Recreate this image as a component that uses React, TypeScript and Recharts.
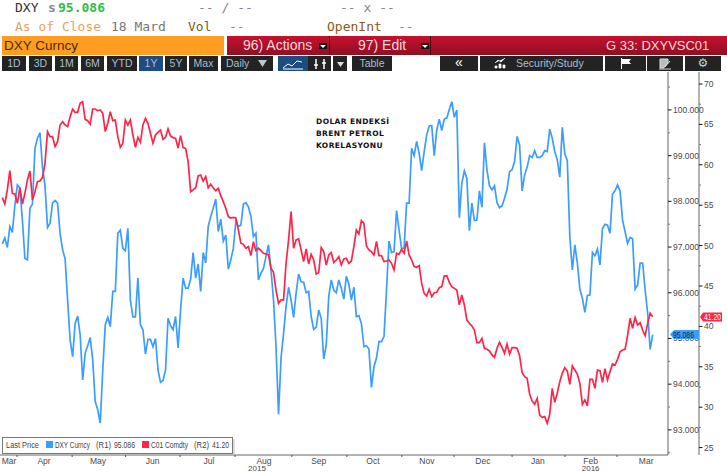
import React from "react";
import { LineChart, Line, XAxis, YAxis } from "recharts";

const dxyValues = [
97.07,97.20,96.99,97.45,97.32,97.92,98.36,98.29,97.59,96.75,96.72,97.85,97.94,99.16,99.38,99.50,98.75,98.34,97.43,97.52,97.96,98.02,97.96,97.30,96.94,96.75,
95.84,94.97,94.60,95.33,95.49,95.08,94.09,94.68,94.84,95.02,94.53,93.62,93.44,93.15,94.31,95.30,95.46,95.26,96.03,96.03,
97.30,97.37,96.97,96.92,97.41,95.84,95.47,95.47,96.32,95.30,95.19,94.66,94.98,94.98,94.82,95.00,94.31,94.04,94.08,94.31,95.44,95.28,95.19,95.48,94.79,95.63,96.32,96.10,96.10,96.30,96.88,96.32,96.63,96.03,96.88,96.65,
97.45,97.67,97.85,98.05,97.34,97.61,97.13,97.26,96.52,96.72,96.97,97.56,97.45,97.48,
97.94,97.97,97.88,97.67,97.23,97.30,96.28,96.43,96.53,96.79,97.05,96.50,95.84,94.82,93.34,94.57,95.11,95.70,96.12,95.84,95.46,95.99,96.41,96.24,96.23,96.00,96.03,95.48,95.20,95.25,95.62,95.44,94.55,94.86,95.92,96.28,96.06,96.00,96.28,96.10,95.86,96.36,96.19,95.84,96.12,95.48,95.50,95.33,94.82,94.84,94.77,93.93,94.38,94.57,94.93,94.93,95.04,96.06,
97.13,96.88,96.90,97.80,97.37,96.97,96.97,97.96,97.96,99.16,99.00,99.31,99.05,98.67,99.09,99.45,99.65,99.66,99.00,99.56,99.80,99.55,99.80,99.82,100.01,100.18,99.84,100.00,97.64,98.40,98.67,98.50,97.36,97.96,97.58,97.59,
98.23,97.87,99.28,98.69,98.34,98.25,98.34,97.97,97.86,97.90,98.07,98.26,98.65,98.69,98.87,99.42,99.23,98.23,98.58,98.75,99.00,98.96,99.11,98.96,98.96,99.00,99.11,99.09,99.58,99.38,99.09,98.91,98.53,99.62,99.04,98.89,97.23,96.50,97.05,96.65,96.08,95.88,95.57,95.94,95.95,96.88,96.81,96.96,96.61,97.40,97.50,97.48,97.30,98.16,98.23,98.36,98.23,97.59,97.34,97.08,97.21,97.18,96.08,96.17,96.65,96.65,96.06,95.55,94.76,95.086
];

const brentValues = [
55.94,55.15,56.89,59.28,56.47,56.39,55.24,57.17,55.15,56.47,58.12,59.24,55.65,56.68,57.92,58.00,58.45,60.19,64.11,63.49,63.49,62.25,62.87,64.93,65.34,64.93,64.72,65.96,66.87,66.50,66.50,67.61,67.82,65.63,65.47,65.01,66.91,66.91,66.70,66.79,66.37,64.11,65.14,66.58,65.47,65.55,63.49,62.17,62.66,65.55,64.93,65.55,63.69,62.17,63.40,62.79,64.93,65.76,65.14,63.90,62.66,63.69,64.02,64.31,63.16,63.40,64.44,63.57,63.36,63.28,62.08,63.61,62.13,62.04,60.39,56.68,56.89,57.17,58.62,58.74,58.00,58.54,57.17,57.59,57.17,56.80,57.09,56.18,55.44,54.62,53.59,53.42,53.50,53.42,51.94,50.29,
50.16,49.67,49.87,48.76,50.49,49.38,49.67,49.38,49.05,48.97,48.84,47.19,46.70,44.50,42.85,43.27,43.27,47.81,50.70,54.20,49.67,50.70,50.82,49.46,48.02,49.58,47.73,48.92,48.22,46.49,46.65,49.75,49.25,47.60,48.84,49.13,47.89,48.22,48.63,47.60,48.35,48.43,47.81,48.10,49.87,51.94,51.44,53.09,52.76,49.96,49.46,49.25,48.84,50.53,48.76,48.76,48.02,48.10,48.22,47.81,46.98,49.05,48.92,49.54,49.05,50.57,48.84,48.22,47.40,47.32,47.52,
45.33,44.09,43.76,44.59,43.68,44.17,44.22,44.79,44.92,46.24,46.28,45.45,44.92,44.71,44.50,42.65,43.89,42.65,40.79,40.38,40.05,39.55,37.99,37.99,
38.52,37.29,37.16,36.96,36.46,36.17,37.29,38.03,37.41,36.67,37.82,36.58,37.37,37.37,37.29,36.38,34.27,33.78,33.57,31.59,30.77,30.35,31.10,29.03,28.75,28.83,28.00,29.12,32.33,30.60,31.72,33.16,34.19,34.89,34.48,32.83,35.10,34.60,34.11,32.95,30.35,30.89,30.15,33.45,33.45,32.33,34.60,34.52,33.08,34.77,33.37,34.40,35.35,35.22,35.92,36.87,37.08,37.16,38.85,41.00,39.76,41.12,40.17,40.46,39.55,38.85,40.38,41.62,41.20
];

const chartRows = Array.from({ length: Math.max(dxyValues.length, brentValues.length) }, (_, i) => ({
  i,
  dxy: dxyValues[i],
  brent: brentValues[i],
}));

const monthBoundaries = [5.85, 27.8, 49.1, 70.8, 92.7, 115.3, 137.2, 159.1, 179.9, 203, 224.1, 244.8];
const monthCenters = [2.7, 16.6, 38.1, 59.9, 82.3, 104.2, 126, 147.6, 169.1, 191.4, 213.3, 234.3, 256.4];
const monthNames = ["Mar", "Apr", "May", "Jun", "Jul", "Aug", "Sep", "Oct", "Nov", "Dec", "Jan", "Feb", "Mar"];
const yearCenters = [101.4, 234.3];
const yearNames = ["2015", "2016"];

const r1Ticks = [92.5, 93, 93.5, 94, 94.5, 95, 95.5, 96, 96.5, 97, 97.5, 98, 98.5, 99, 99.5, 100, 100.5];
const r2Ticks = [25, 27.5, 30, 32.5, 35, 37.5, 40, 42.5, 45, 47.5, 50, 52.5, 55, 57.5, 60, 62.5, 65, 67.5, 70];

const rangeButtons = [
  { t: "1D", l: 2, w: 24 }, { t: "3D", l: 29, w: 23 }, { t: "1M", l: 55, w: 23 }, { t: "6M", l: 81, w: 23 },
  { t: "YTD", l: 107, w: 30 }, { t: "1Y", l: 139, w: 24, on: true }, { t: "5Y", l: 165, w: 22 }, { t: "Max", l: 189, w: 29 },
  { t: "Daily", l: 221, w: 52, caret: true },
];

const BLUE = "#3b9dff";
const RED = "#ff2548";
const TICK = "#4a4a4a";
const NARROW = "'Liberation Sans Narrow', 'Liberation Sans', sans-serif";
const MONO = "'DejaVu Sans Mono', monospace";

function XTick(props: any) {
  const { x, y, payload } = props;
  const v = payload.value;
  const m = monthCenters.indexOf(v);
  const yr = yearCenters.indexOf(v);
  return (
    <g>
      {monthBoundaries.includes(v) && <line x1={x} x2={x} y1={y} y2={y + 2} stroke="#555" />}
      {m >= 0 && (
        <text x={x} y={y + 9} textAnchor="middle" fontSize={8.5} fontFamily={NARROW} fill={TICK}>
          {monthNames[m]}
        </text>
      )}
      {yr >= 0 && (
        <text x={x} y={y + 16} textAnchor="middle" fontSize={8} fontFamily={NARROW} fill={TICK}>
          {yearNames[yr]}
        </text>
      )}
    </g>
  );
}

function YTick(props: any) {
  const { x, y, payload, digits } = props;
  const v = payload.value;
  const major = digits > 0 ? Number.isInteger(v) : v % 5 === 0;
  return (
    <g>
      <line x1={x} x2={x + (major ? 3.5 : 2)} y1={y} y2={y} stroke={major ? "#111" : "#777"} />
      {major && (
        <text x={x + 5} y={y + 3} fontSize={8.5} fontFamily={NARROW} fill={TICK}>
          {v.toFixed(digits)}
        </text>
      )}
    </g>
  );
}

const abs = (left: number, top: number, extra: React.CSSProperties = {}): React.CSSProperties => ({
  position: "absolute",
  left,
  top,
  whiteSpace: "pre",
  ...extra,
});

function Head({ l, t, c, children, b }: any) {
  return (
    <span style={abs(l, t, { font: `${b ? "bold " : ""}13px ${MONO}`, color: c, lineHeight: "16px" })}>{children}</span>
  );
}

function Btn({ l, w, on, children, style }: any) {
  return (
    <div
      style={abs(l, 56, {
        width: w,
        height: 15,
        background: on ? "#1d4c80" : "#232323",
        color: "#a9bdd2",
        font: "10.5px 'Liberation Sans', sans-serif",
        lineHeight: "15px",
        textAlign: "center",
        ...style,
      })}
    >
      {children}
    </div>
  );
}

function LegendText({ x, w, children }: any) {
  return (
    <text x={x} y={11} fontSize={8.5} fontFamily={NARROW} fill="#444" textLength={w} lengthAdjust="spacingAndGlyphs">
      {children}
    </text>
  );
}

export default function App() {
  return (
    <div style={{ position: "absolute", left: 0, top: 0, width: 727, height: 472, background: "#fff", overflow: "hidden" }}>
      <Head l={15} t={0} c="#333">DXY</Head>
      <Head l={48} t={0} c="#888" b>s</Head>
      <Head l={58} t={0} c="#2fc04c" b>95.086</Head>
      <Head l={198} t={0} c="#888">-- / --</Head>
      <Head l={340} t={0} c="#888">-- x --</Head>
      <Head l={15} t={19} c="#e6a566">As of Close</Head>
      <Head l={111} t={19} c="#777">18 Mard</Head>
      <Head l={188} t={19} c="#8a5a14">Vol</Head>
      <Head l={229} t={19} c="#888">--</Head>
      <Head l={327} t={19} c="#8a5a14">OpenInt</Head>
      <Head l={398} t={19} c="#888">--</Head>

      <div style={abs(2, 36, { width: 222, height: 19, background: "#ff9c22", color: "#4b2c00", font: "13.5px 'Liberation Sans', sans-serif", lineHeight: "19px", paddingLeft: 2, boxSizing: "border-box" })}>
        DXY Curncy
      </div>
      <div style={abs(227, 36, { width: 500, height: 19, background: "linear-gradient(#c8102e,#8e1024)" })} />
      <div style={abs(329, 36, { width: 1, height: 19, background: "#4a0510" })} />
      <div style={abs(430, 36, { width: 1, height: 19, background: "#4a0510" })} />
      <span style={abs(243, 36, { color: "#f5d9dc", font: "14px 'Liberation Sans', sans-serif", lineHeight: "19px" })}>96) Actions</span>
      <span style={abs(358, 36, { color: "#f5d9dc", font: "14px 'Liberation Sans', sans-serif", lineHeight: "19px" })}>97) Edit</span>
      <span style={abs(606, 36, { color: "#f5d9dc", font: "13px 'Liberation Sans', sans-serif", lineHeight: "19px" })}>G 33: DXYVSC01</span>
      <svg style={abs(319, 43)} width={8} height={6}><rect width={8} height={6} fill="#111" /><path d="M1 2h6l-3 3z" fill="#fff" /></svg>
      <svg style={abs(421, 43)} width={8} height={6}><rect width={8} height={6} fill="#111" /><path d="M1 2h6l-3 3z" fill="#fff" /></svg>

      {rangeButtons.map((b) => (
        <Btn key={b.t} l={b.l} w={b.w} on={b.on} style={b.caret ? { textAlign: "left", paddingLeft: 5, width: b.w - 5 } : undefined}>
          {b.t}
        </Btn>
      ))}
      <svg style={abs(258, 60)} width={9} height={7}><path d="M0 0h9l-4.5 7z" fill="#b9c6d4" /></svg>
      <Btn l={278} w={30} on>
        <svg width={22} height={12} style={{ marginTop: 2 }}><path d="M1 10l5-4 4 2 5-5 5 1M1 11h20" stroke="#fff" fill="none" /></svg>
      </Btn>
      <Btn l={308} w={23}>
        <svg width={14} height={12} style={{ marginTop: 2 }}><path d="M3 1v10M11 1v10M1 7h4M9 5h4" stroke="#fff" fill="none" strokeWidth={1.5} /></svg>
      </Btn>
      <Btn l={333} w={14}>
        <svg width={7} height={5}><path d="M0 0h7l-3.5 5z" fill="#ddd" /></svg>
      </Btn>
      <Btn l={352} w={40}>Table</Btn>
      <Btn l={440} w={38} style={{ color: "#fff", fontSize: 14, lineHeight: "13px" }}>«</Btn>
      <Btn l={480} w={123} style={{ textAlign: "left", paddingLeft: 36, width: 87 }}>Security/Study</Btn>
      <svg style={abs(494, 57)} width={14} height={12}><path d="M1 11V9h2v2zM5 11V7h2v4zM9 11V8h2v3zM1 6l3-3 3 2 4-4" fill="#fff" stroke="#fff" strokeWidth={0.7} /></svg>
      <Btn l={605} w={41}>
        <svg width={11} height={11} style={{ marginTop: 2 }}><path d="M1 0h1v11H1zM2 1h9l-2 2.5 2 2.5H2z" fill="#fff" /></svg>
      </Btn>
      <Btn l={647} w={36}>
        <svg width={13} height={12} style={{ marginTop: 2 }}><path d="M1 1h8v4L5 9v1H1zM0 11h12M6 9l5-6" stroke="#ddd" fill="#bbb" /></svg>
      </Btn>
      <Btn l={685} w={36} style={{ color: "#ccc", fontSize: 12, fontFamily: "'DejaVu Sans', sans-serif" }}>⚙</Btn>

      <div style={abs(0, 0)}>
        <LineChart width={727} height={472} data={chartRows} margin={{ top: 72, right: 0, bottom: 0, left: 0 }}>
          <XAxis
            dataKey="i"
            type="number"
            domain={[-0.92, 265.1]}
            ticks={[...monthBoundaries, ...monthCenters, yearCenters[0]]}
            interval={0}
            height={17}
            tickSize={0}
            tickMargin={0}
            tickLine={false}
            axisLine={{ stroke: "#666" }}
            tick={<XTick />}
            allowDecimals
          />
          <YAxis
            yAxisId="r1"
            orientation="right"
            domain={[92.45, 100.83]}
            allowDataOverflow
            ticks={r1Ticks}
            interval={0}
            width={31}
            tickSize={0}
            tickMargin={0}
            tickLine={false}
            axisLine={{ stroke: "#666" }}
            tick={<YTick digits={3} />}
          />
          <YAxis
            yAxisId="r2"
            orientation="right"
            domain={[24.08, 71.49]}
            allowDataOverflow
            ticks={r2Ticks}
            interval={0}
            width={28}
            tickSize={0}
            tickMargin={0}
            tickLine={false}
            axisLine={{ stroke: "#666" }}
            tick={<YTick digits={0} />}
          />
          <Line yAxisId="r1" dataKey="dxy" stroke={BLUE} strokeWidth={1.7} dot={false} isAnimationActive={false} />
          <Line yAxisId="r2" dataKey="brent" stroke={RED} strokeWidth={1.7} dot={false} isAnimationActive={false} />
        </LineChart>
      </div>

      <div style={abs(316, 116, { font: "bold 7.5px 'DejaVu Sans', sans-serif", letterSpacing: 0.4, color: "#111", lineHeight: "12px" })}>
        DOLAR ENDEKSİ{"\n"}BRENT PETROL{"\n"}KORELASYONU
      </div>

      <svg style={abs(668, 328)} width={32} height={13}>
        <path d="M2 6.5L6 2H31V11H6z" fill="#3b9dff" />
        <text x={5} y={9.5} fontSize={8.5} fontFamily={NARROW} fill="#10263c" textLength={21} lengthAdjust="spacingAndGlyphs">95.086</text>
      </svg>
      <svg style={abs(699, 311)} width={26} height={12}>
        <path d="M1 6L4 1.5H23V10.5H4z" fill="#ff2548" />
        <text x={5} y={9} fontSize={8.5} fontFamily={NARROW} fill="#fff" textLength={17} lengthAdjust="spacingAndGlyphs">41.20</text>
      </svg>

      <svg style={abs(2, 437)} width={233} height={18}>
        <rect x={0.5} y={0.5} width={230} height={16} fill="#fff" stroke="#777" />
        <path d="M232 2V18H2" stroke="#bbb" fill="none" />
        <LegendText x={4} w={33}>Last Price</LegendText>
        <rect x={44} y={4} width={7} height={7} fill={BLUE} />
        <LegendText x={53} w={35}>DXY Curncy</LegendText>
        <LegendText x={94} w={15}>(R1)</LegendText>
        <LegendText x={112} w={21}>95.086</LegendText>
        <rect x={140} y={4} width={7} height={7} fill={RED} />
        <LegendText x={149} w={37}>C01 Comdty</LegendText>
        <LegendText x={192} w={15}>(R2)</LegendText>
        <LegendText x={210} w={17}>41.20</LegendText>
      </svg>
    </div>
  );
}
